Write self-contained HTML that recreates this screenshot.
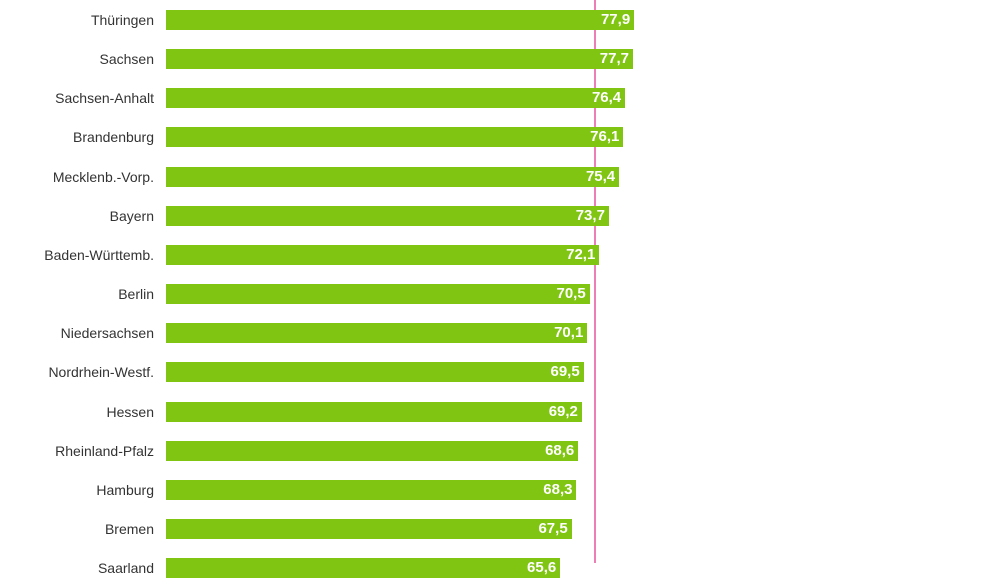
<!DOCTYPE html>
<html><head><meta charset="utf-8"><style>
body{margin:0;width:1000px;height:563px;overflow:hidden;background:#fff;position:relative;font-family:"Liberation Sans",sans-serif}
.l{position:absolute;right:846px;font-size:14px;color:#333;white-space:nowrap;line-height:20px}
.b{position:absolute;z-index:2;left:166px;height:20px;background:#80c512;color:#fff;font-weight:bold;font-size:15px;line-height:20px;text-align:right;box-sizing:border-box;padding-right:4px}
.p{position:absolute;z-index:1;left:594px;top:0;width:2px;height:563px;background:#ec7fb5}
</style></head><body>
<div class="p"></div>
<div id="c"></div>
<script>
var d=[["Thüringen",77.9],["Sachsen",77.7],["Sachsen-Anhalt",76.4],["Brandenburg",76.1],["Mecklenb.-Vorp.",75.4],["Bayern",73.7],["Baden-Württemb.",72.1],["Berlin",70.5],["Niedersachsen",70.1],["Nordrhein-Westf.",69.5],["Hessen",69.2],["Rheinland-Pfalz",68.6],["Hamburg",68.3],["Bremen",67.5],["Saarland",65.6]];
var h="";d.forEach(function(r,i){var y=10+i*39.15;var w=r[1]*6.01;
h+='<div class="l" style="top:'+y+'px">'+r[0]+'</div><div class="b" style="top:'+y+'px;width:'+w+'px">'+String(r[1]).replace(".",",")+'</div>';});
document.getElementById("c").innerHTML=h;
</script>
</body></html>
